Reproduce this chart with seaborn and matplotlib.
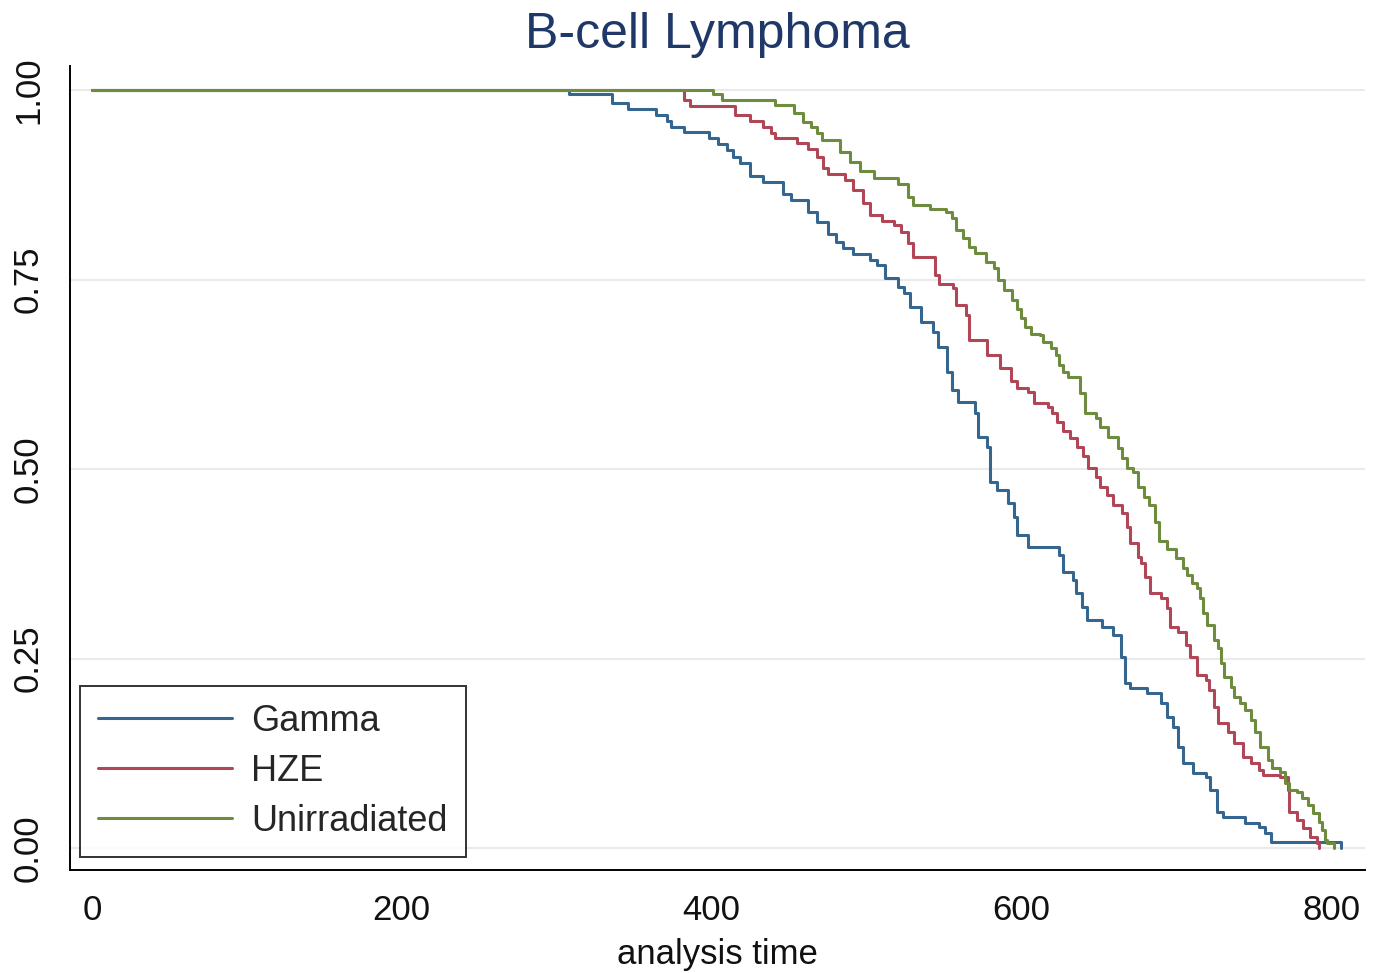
import matplotlib
matplotlib.use("Agg")
import matplotlib.pyplot as plt
import seaborn as sns
import pandas as pd

# ---- data ----
groups = ["Gamma", "HZE", "Unirradiated"]

gamma_t = [0, 308, 336, 346, 364, 371, 374, 382, 398, 404, 410, 414, 418, 425, 433, 446, 451,
           462, 468, 475, 480, 485, 491, 502, 507, 512, 520, 524, 528, 535, 543, 546, 552,
           555, 559, 570, 572, 578, 580, 584, 591, 595, 597, 604, 624, 627, 633, 635, 639,
           642, 652, 659, 664, 667, 670, 681, 690, 694, 698, 701, 704, 711, 719, 722, 726,
           730, 744, 753, 757, 761, 806]
gamma_s = [1.0, 0.995, 0.983, 0.975, 0.968, 0.960, 0.951, 0.945, 0.937, 0.929, 0.921, 0.912,
           0.904, 0.887, 0.879, 0.863, 0.855, 0.839, 0.826, 0.811, 0.800, 0.792, 0.784, 0.776,
           0.769, 0.752, 0.741, 0.732, 0.714, 0.694, 0.681, 0.661, 0.628, 0.604, 0.589, 0.574,
           0.542, 0.529, 0.483, 0.472, 0.455, 0.437, 0.413, 0.397, 0.387, 0.364, 0.354, 0.336,
           0.318, 0.301, 0.292, 0.281, 0.252, 0.218, 0.211, 0.204, 0.191, 0.173, 0.160, 0.133,
           0.112, 0.099, 0.094, 0.077, 0.047, 0.041, 0.033, 0.028, 0.020, 0.008, 0.0]

hze_t = [0, 382, 386, 415, 425, 433, 438, 441, 455, 462, 468, 472, 475, 486, 491, 498, 502,
         510, 518, 522, 527, 530, 544, 547, 556, 558, 564, 566, 578, 586, 593, 597, 604, 608,
         617, 620, 623, 627, 631, 636, 640, 643, 648, 651, 655, 659, 665, 668, 670, 675, 677,
         680, 683, 690, 694, 696, 701, 706, 709, 713, 719, 721, 724, 727, 733, 737, 743, 748,
         753, 756, 767, 772, 773, 778, 782, 786, 791, 792]
hze_s = [1.0, 0.987, 0.979, 0.967, 0.960, 0.951, 0.943, 0.937, 0.931, 0.923, 0.912, 0.898,
         0.889, 0.881, 0.868, 0.851, 0.835, 0.828, 0.822, 0.813, 0.799, 0.780, 0.756, 0.745,
         0.739, 0.716, 0.703, 0.670, 0.650, 0.633, 0.617, 0.607, 0.602, 0.587, 0.582, 0.574,
         0.562, 0.551, 0.541, 0.529, 0.518, 0.501, 0.489, 0.476, 0.466, 0.453, 0.442, 0.423,
         0.402, 0.384, 0.376, 0.358, 0.336, 0.330, 0.317, 0.292, 0.285, 0.268, 0.252, 0.228,
         0.222, 0.208, 0.186, 0.165, 0.153, 0.139, 0.120, 0.112, 0.103, 0.096, 0.094, 0.077,
         0.047, 0.037, 0.026, 0.015, 0.007, 0.0]

unirr_t = [0, 399, 401, 407, 441, 453, 459, 464, 468, 471, 483, 489, 496, 505, 520, 527, 530,
           541, 551, 555, 558, 562, 566, 570, 577, 582, 585, 589, 594, 597, 600, 602, 606, 612,
           614, 619, 622, 624, 627, 630, 638, 641, 648, 651, 656, 662, 665, 668, 672, 675, 679,
           682, 686, 689, 694, 700, 704, 707, 710, 713, 715, 717, 720, 724, 727, 729, 731, 735,
           737, 741, 744, 748, 751, 754, 759, 762, 767, 770, 773, 778, 781, 785, 788, 792, 794,
           796, 797, 802]
unirr_s = [1.0, 1.0, 0.995, 0.987, 0.980, 0.970, 0.958, 0.951, 0.943, 0.934, 0.918, 0.905,
           0.893, 0.884, 0.877, 0.859, 0.848, 0.844, 0.839, 0.831, 0.815, 0.805, 0.793, 0.785,
           0.773, 0.765, 0.749, 0.736, 0.723, 0.712, 0.699, 0.687, 0.679, 0.677, 0.668, 0.660,
           0.650, 0.637, 0.628, 0.621, 0.600, 0.574, 0.567, 0.555, 0.542, 0.528, 0.515, 0.501,
           0.496, 0.476, 0.463, 0.453, 0.430, 0.405, 0.395, 0.383, 0.369, 0.360, 0.350, 0.343,
           0.330, 0.310, 0.294, 0.274, 0.264, 0.244, 0.226, 0.212, 0.199, 0.191, 0.182, 0.169,
           0.153, 0.133, 0.116, 0.106, 0.100, 0.086, 0.077, 0.074, 0.066, 0.057, 0.046, 0.034,
           0.024, 0.011, 0.007, 0.0]

x_ticks = [0, 200, 400, 600, 800]
y_ticks = [0.00, 0.25, 0.50, 0.75, 1.00]
y_tick_labels = ["0.00", "0.25", "0.50", "0.75", "1.00"]
colors = ["#35668f", "#b04656", "#6d8c3e"]

frames = []
for g, t, s in zip(groups, [gamma_t, hze_t, unirr_t], [gamma_s, hze_s, unirr_s]):
    frames.append(pd.DataFrame({"time": t, "surv": s, "group": g}))
df = pd.concat(frames, ignore_index=True)

sns.set_style("white")
plt.rcParams["font.family"] = ["Liberation Sans", "DejaVu Sans"]

fig = plt.figure(figsize=(13.8, 9.73), dpi=100)
ax = fig.add_axes([0.0507, 0.1059, 0.9385, 0.8262])

sns.lineplot(data=df, x="time", y="surv", hue="group", hue_order=groups,
             palette=colors, drawstyle="steps-post", estimator=None, sort=False,
             linewidth=2.2, ax=ax)

ax.set_xlim(-14.2, 821.8)
ax.set_ylim(-0.029, 1.032)
ax.set_xticks(x_ticks)
ax.set_yticks(y_ticks)
ax.set_yticklabels(y_tick_labels, rotation=90, va="center")
ax.yaxis.grid(True, color="#eaeaea", linewidth=1.5)
ax.xaxis.grid(False)
ax.set_axisbelow(True)

for side in ["top", "right"]:
    ax.spines[side].set_visible(False)
for side in ["left", "bottom"]:
    ax.spines[side].set_color("black")
    ax.spines[side].set_linewidth(1.4)

ax.tick_params(axis="both", which="major", direction="out", length=10, width=1.3,
               color="black", labelsize=25, labelcolor="#111111")
ax.tick_params(axis="y", pad=8)
ax.tick_params(axis="x", pad=7)

ax.set_xlabel("analysis time", fontsize=25, color="#111111", labelpad=8)
ax.set_ylabel("")
ax.set_title("B-cell Lymphoma", fontsize=36, color="#1f3868", pad=13)

handles, labels = ax.get_legend_handles_labels()
leg = ax.legend(handles, labels, loc="lower left", bbox_to_anchor=(0.0077, 0.016),
                borderaxespad=0, fontsize=26, frameon=True, fancybox=False,
                handlelength=3.7, handletextpad=0.55, labelspacing=0.42,
                borderpad=0.5, title=None)
leg.get_frame().set_edgecolor("black")
leg.get_frame().set_linewidth(1.4)
for line in leg.get_lines():
    line.set_linewidth(2.2)

fig.savefig("out.png", dpi=100)
